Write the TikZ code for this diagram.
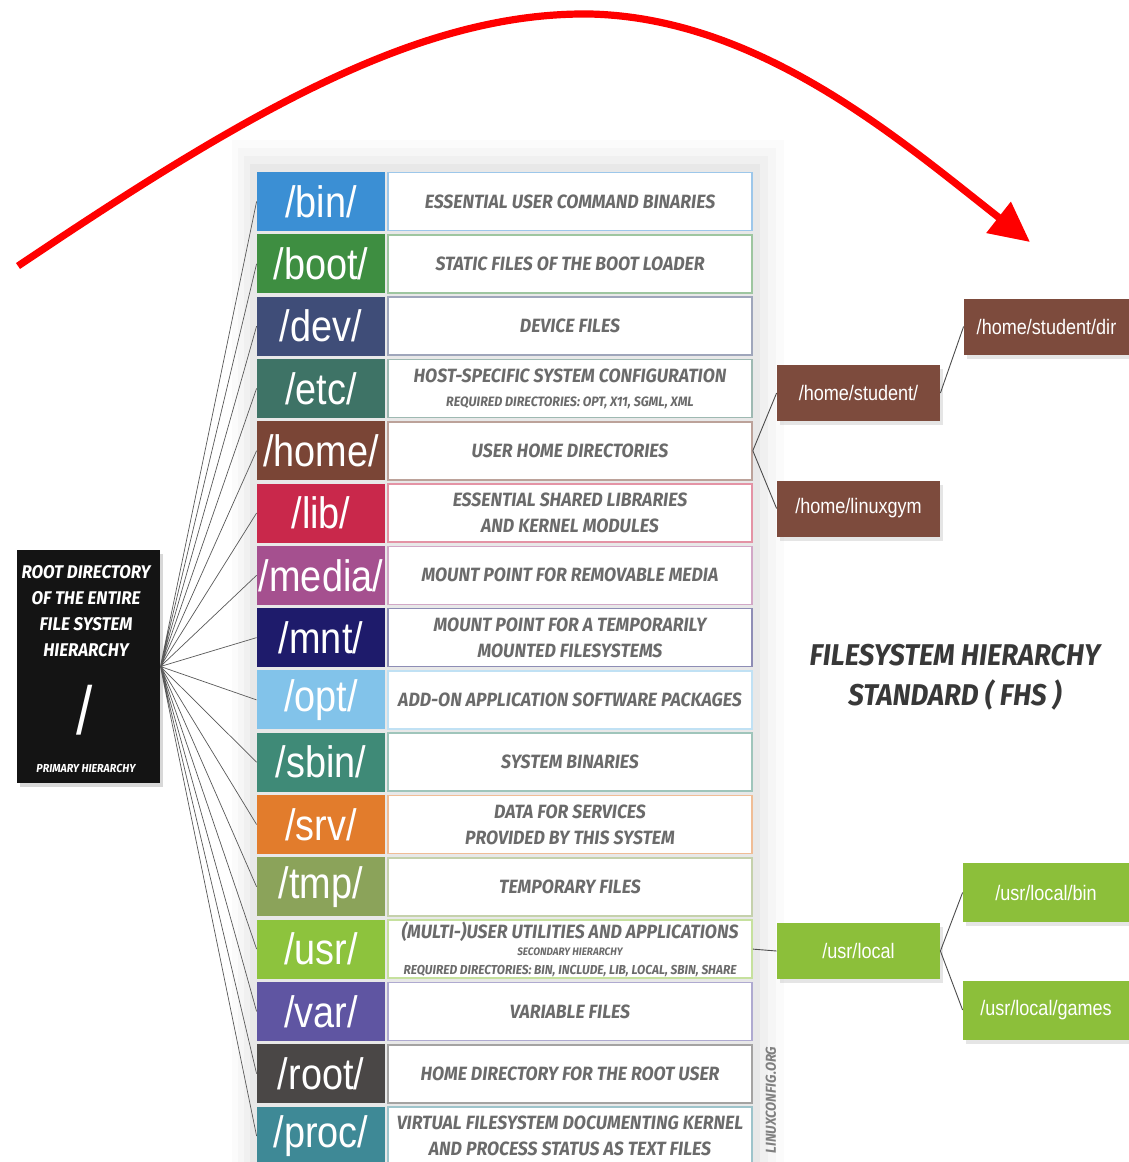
\documentclass[tikz,border=0pt]{standalone}
\usepackage{fontspec}
\usepackage{tikz}
\usetikzlibrary{arrows.meta, shadows}

\newfontfamily\dirfont{Liberation Sans}[FakeStretch=0.86]
\newfontfamily\capsfont{Fira Sans}[FakeStretch=0.92]
\newcommand{\smalldesc}[1]{{\fontsize{6.8}{8}\selectfont #1}}

\definecolor{cbin}{HTML}{3B8FD4}
\definecolor{cboot}{HTML}{3E8E41}
\definecolor{cdev}{HTML}{3F4D78}
\definecolor{cetc}{HTML}{3E7366}
\definecolor{chome}{HTML}{7A4536}
\definecolor{clib}{HTML}{C9284B}
\definecolor{cmedia}{HTML}{A5508F}
\definecolor{cmnt}{HTML}{1E1B6B}
\definecolor{copt}{HTML}{82C3EA}
\definecolor{csbin}{HTML}{3F8A77}
\definecolor{csrv}{HTML}{E27C2C}
\definecolor{ctmp}{HTML}{8BA35A}
\definecolor{cusr}{HTML}{8DC33D}
\definecolor{cvar}{HTML}{5F55A2}
\definecolor{croot}{HTML}{4A4746}
\definecolor{cproc}{HTML}{3E8996}
\definecolor{csub}{HTML}{7D4B3D}
\definecolor{cgreen}{HTML}{8CBF3A}
\definecolor{descgray}{HTML}{6B6B6B}

\tikzset{
  dir/.style={minimum width=64pt, minimum height=29.5pt, inner sep=0pt, text=white,
    font=\dirfont\fontsize{22}{22}\selectfont},
  desc/.style={draw=#1!50, fill=white, line width=0.8pt, minimum width=182pt,
    minimum height=29pt, inner sep=0pt, align=center, text=descgray,
    font=\capsfont\bfseries\itshape\fontsize{9.6}{13}\selectfont},
  subdir/.style={fill=#1, minimum width=81.5pt, minimum height=28pt, inner sep=0pt,
    text=white, font=\dirfont\fontsize{10.5}{12}\selectfont,
    drop shadow={shadow xshift=1.5pt, shadow yshift=-2pt, opacity=0.2}},
  fan/.style={draw=black!65, line width=0.35pt},
  branch/.style={draw=black!70, line width=0.45pt},
  bigarrow/.style={draw=red, line width=3.6pt, -{Triangle[length=20pt, width=19pt]}}
}

\begin{document}
\begin{tikzpicture}[x=0.5pt, y=-0.5pt]
  \clip (0,0) rectangle (1129,1162);
  \fill[white] (0,0) rectangle (1129,1162);

  % soft halo behind the table
  \fill[black, opacity=0.015] (232,140) rectangle (784,1162);
  \fill[black, opacity=0.02] (238,148) rectangle (776,1162);
  \fill[black, opacity=0.025] (244,156) rectangle (768,1162);
  \fill[black, opacity=0.03] (250,164) rectangle (760,1162);

  % root box
  \node[fill=black!92, minimum width=71.5pt, minimum height=116.5pt, inner sep=0pt,
    drop shadow={shadow xshift=1.5pt, shadow yshift=-2pt, opacity=0.3}] (root) at (88.5,666.5) {};
  \node[text=white, align=center, font=\capsfont\bfseries\itshape\fontsize{9.2}{13}\selectfont] (rootlbl) at (86,611) {ROOT DIRECTORY\\OF THE ENTIRE\\FILE SYSTEM\\HIERARCHY};
  \node[text=white, font=\dirfont\fontsize{34}{34}\selectfont] (slash) at (85,710) {/};
  \node[text=white, font=\capsfont\bfseries\itshape\fontsize{5.8}{6}\selectfont] (primary) at (86,768) {PRIMARY HIERARCHY};

  % directory rows
  \node[dir, fill=cbin] (bin) at (321,201.5) {/bin/};
  \node[desc=cbin] (bind) at (570,201.5) {ESSENTIAL USER COMMAND BINARIES};
  \node[dir, fill=cboot] (boot) at (321,263.8) {/boot/};
  \node[desc=cboot] (bootd) at (570,263.8) {STATIC FILES OF THE BOOT LOADER};
  \node[dir, fill=cdev] (dev) at (321,326.1) {/dev/};
  \node[desc=cdev] (devd) at (570,326.1) {DEVICE FILES};
  \node[dir, fill=cetc] (etc) at (321,388.4) {/etc/};
  \node[desc=cetc] (etcd) at (570,388.4) {HOST-SPECIFIC SYSTEM CONFIGURATION\\[-1pt]\smalldesc{REQUIRED DIRECTORIES: OPT, X11, SGML, XML}};
  \node[dir, fill=chome] (home) at (321,450.7) {/home/};
  \node[desc=chome] (homed) at (570,450.7) {USER HOME DIRECTORIES};
  \node[dir, fill=clib] (lib) at (321,513.0) {/lib/};
  \node[desc=clib] (libd) at (570,513.0) {ESSENTIAL SHARED LIBRARIES\\AND KERNEL MODULES};
  \node[dir, fill=cmedia] (media) at (321,575.3) {/media/};
  \node[desc=cmedia] (mediad) at (570,575.3) {MOUNT POINT FOR REMOVABLE MEDIA};
  \node[dir, fill=cmnt] (mnt) at (321,637.6) {/mnt/};
  \node[desc=cmnt] (mntd) at (570,637.6) {MOUNT POINT FOR A TEMPORARILY\\MOUNTED FILESYSTEMS};
  \node[dir, fill=copt] (opt) at (321,699.9) {/opt/};
  \node[desc=copt] (optd) at (570,699.9) {ADD-ON APPLICATION SOFTWARE PACKAGES};
  \node[dir, fill=csbin] (sbin) at (321,762.2) {/sbin/};
  \node[desc=csbin] (sbind) at (570,762.2) {SYSTEM BINARIES};
  \node[dir, fill=csrv] (srv) at (321,824.5) {/srv/};
  \node[desc=csrv] (srvd) at (570,824.5) {DATA FOR SERVICES\\PROVIDED BY THIS SYSTEM};
  \node[dir, fill=ctmp] (tmp) at (321,886.8) {/tmp/};
  \node[desc=ctmp] (tmpd) at (570,886.8) {TEMPORARY FILES};
  \node[dir, fill=cusr] (usr) at (321,949.1) {/usr/};
  \node[desc=cusr] (usrd) at (570,949.1) {(MULTI-)USER UTILITIES AND APPLICATIONS\\[-4.5pt]{\fontsize{5.4}{6}\selectfont SECONDARY HIERARCHY}\\[-3.5pt]{\fontsize{6.5}{7}\selectfont REQUIRED DIRECTORIES: BIN, INCLUDE, LIB, LOCAL, SBIN, SHARE}};
  \node[dir, fill=cvar] (var) at (321,1011.4) {/var/};
  \node[desc=cvar] (vard) at (570,1011.4) {VARIABLE FILES};
  \node[dir, fill=croot] (rootdir) at (321,1073.7) {/root/};
  \node[desc=croot] (rootdird) at (570,1073.7) {HOME DIRECTORY FOR THE ROOT USER};
  \node[dir, fill=cproc] (proc) at (321,1136.0) {/proc/};
  \node[desc=cproc] (procd) at (570,1136.0) {VIRTUAL FILESYSTEM DOCUMENTING KERNEL\\AND PROCESS STATUS AS TEXT FILES};

  % fan from the root
  \draw[fan] (root.east) -- (bin.west) (root.east) -- (boot.west)
    (root.east) -- (dev.west) (root.east) -- (etc.west)
    (root.east) -- (home.west) (root.east) -- (lib.west)
    (root.east) -- (media.west) (root.east) -- (mnt.west)
    (root.east) -- (opt.west) (root.east) -- (sbin.west)
    (root.east) -- (srv.west) (root.east) -- (tmp.west)
    (root.east) -- (usr.west) (root.east) -- (var.west)
    (root.east) -- (rootdir.west) (root.east) -- (proc.west);

  % /home subtree
  \node[subdir=csub] (student) at (858.5,393) {/home/student/};
  \node[subdir=csub] (linuxgym) at (858.5,508.5) {/home/linuxgym};
  \node[subdir=csub, minimum width=82.5pt] (studentdir) at (1046.5,326.5) {/home/student/dir};
  \draw[branch] (homed.east) -- (student.west);
  \draw[branch] (homed.east) -- (linuxgym.west);
  \draw[branch] (student.east) -- (studentdir.west);

  % /usr subtree
  \node[subdir=cgreen] (usrlocal) at (858.5,951) {/usr/local};
  \node[subdir=cgreen, minimum width=83pt, minimum height=29.5pt] (localbin) at (1046,892.5) {/usr/local/bin};
  \node[subdir=cgreen, minimum width=83pt, minimum height=29.5pt] (localgames) at (1046,1010) {/usr/local/games};
  \draw[branch] (usrd.east) -- (usrlocal.west);
  \draw[branch] (usrlocal.east) -- (localbin.west);
  \draw[branch] (usrlocal.east) -- (localgames.west);

  % title and site mark
  \node[align=center, text=black!78, font=\capsfont\bfseries\itshape\fontsize{15}{20}\selectfont] (title) at (955,677) {FILESYSTEM HIERARCHY\\STANDARD ( FHS )};
  \node[rotate=90, text=black!50, font=\capsfont\bfseries\itshape\fontsize{7.2}{7}\selectfont] (site) at (771,1100) {LINUXCONFIG.ORG};

  % red arrow
  \coordinate (arrowstart) at (18,266);
  \coordinate (arrowend) at (1030,242);
  \draw[bigarrow] (arrowstart) .. controls (250,110) and (420,12) .. (590,14)
    .. controls (760,18) and (900,140) .. (arrowend);
\end{tikzpicture}
\end{document}
